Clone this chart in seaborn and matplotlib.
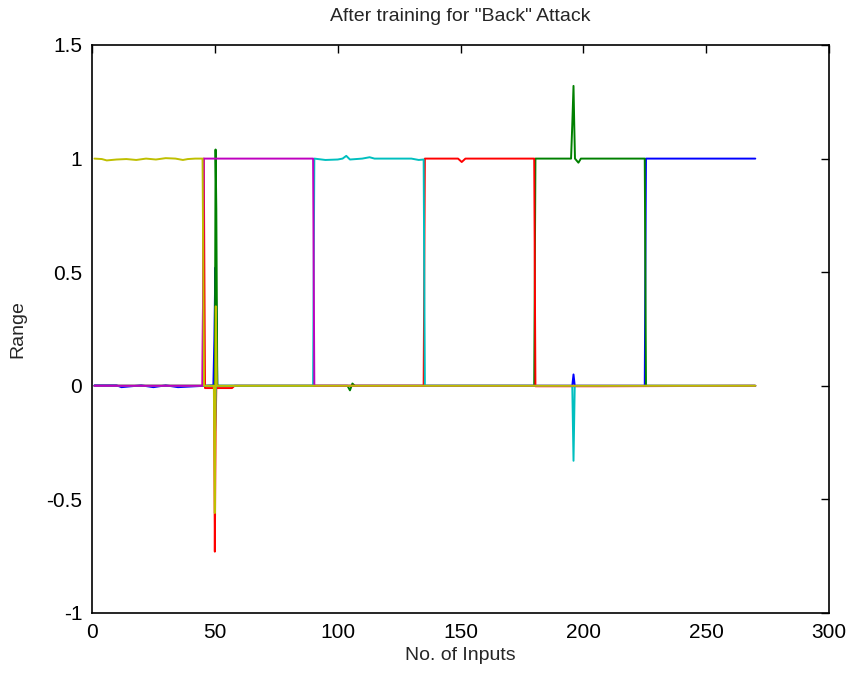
import matplotlib
matplotlib.use("Agg")
import matplotlib.pyplot as plt
import seaborn as sns
import pandas as pd

# ---- data ----
yellow_x = [1, 4, 6, 10, 14, 18, 22, 26, 30, 34, 37, 39, 42, 45, 45.6, 49.6, 50.0, 50.4, 50.8, 270]
yellow_y = [1.0, 0.998, 0.992, 0.996, 0.998, 0.994, 1.0, 0.996, 1.002, 1.0, 0.994, 0.998, 1.0, 1.0, 0.0, 0.0, -0.56, 0.35, 0.0, 0.0]

magenta_x = [1, 45, 45.5, 90, 90.5, 270]
magenta_y = [0.0, 0.0, 1.0, 1.0, 0.0, 0.0]

cyan_x = [1, 49.8, 50.1, 50.4, 90, 90.5, 95, 100, 102, 103.5, 105, 110, 113, 115, 120, 130, 133, 135, 135.5, 195.5, 196.0, 196.5, 270]
cyan_y = [0.0, 0.0, -0.2, 0.0, 0.0, 1.0, 0.994, 0.996, 1.0, 1.012, 0.996, 1.0, 1.006, 1.0, 1.0, 1.0, 0.994, 0.996, 0.0, 0.0, -0.33, 0.0, 0.0]

red_x = [1, 45, 45.5, 46.0, 49.7, 50.0, 50.3, 50.6, 57, 58, 135, 135.5, 149, 150.5, 152, 180, 180.5, 207, 270]
red_y = [0.0, 0.0, 1.0, -0.01, -0.01, -0.73, -0.2, -0.01, -0.01, 0.0, 0.0, 1.0, 1.0, 0.985, 1.0, 1.0, -0.002, -0.002, 0.0]

green_x = [1, 50.0, 50.3, 50.6, 51.0, 104, 105, 106, 107, 180, 180.5, 195, 195.5, 196.0, 196.3, 196.6, 198, 199, 225, 225.5, 270]
green_y = [0.0, 0.0, 1.04, 0.78, 0.0, 0.0, -0.02, 0.01, 0.0, 0.0, 1.0, 1.0, 1.15, 1.32, 1.15, 1.0, 0.982, 1.0, 1.0, 0.0, 0.0]

blue_x = [1, 10, 12, 20, 25, 30, 35, 49.4, 49.8, 50.2, 50.6, 51.0, 195.5, 196.0, 196.5, 225, 225.5, 270]
blue_y = [0.002, 0.002, -0.006, 0.002, -0.006, 0.002, -0.006, 0.002, 0.2, 0.52, 0.34, 0.0, 0.0, 0.05, 0.0, 0.0, 1.0, 1.0]

series_names = ["blue", "green", "red", "cyan", "magenta", "yellow"]
series_colors = ["#0000FF", "#008000", "#FF0000", "#00BFBF", "#BF00BF", "#BFBF00"]

title_text = 'After training for "Back" Attack'
x_label = "No. of Inputs"
y_label = "Range"
x_ticks = [0, 50, 100, 150, 200, 250, 300]
y_ticks = [-1, -0.5, 0, 0.5, 1, 1.5]
y_tick_labels = ["-1", "-0.5", "0", "0.5", "1", "1.5"]

# ---- build long table ----
xs = {"blue": blue_x, "green": green_x, "red": red_x, "cyan": cyan_x,
      "magenta": magenta_x, "yellow": yellow_x}
ys = {"blue": blue_y, "green": green_y, "red": red_y, "cyan": cyan_y,
      "magenta": magenta_y, "yellow": yellow_y}
frames = []
for name in series_names:
    frames.append(pd.DataFrame({"x": xs[name], "y": ys[name], "series": name}))
df = pd.concat(frames, ignore_index=True)

sns.set_style("white")
plt.rcParams["font.family"] = ["Liberation Sans", "DejaVu Sans"]

fig = plt.figure(figsize=(8.51, 6.74), dpi=100)
ax = fig.add_axes([92 / 851, 1 - 613 / 674, (829 - 92) / 851, (613 - 45) / 674])

sns.lineplot(data=df, x="x", y="y", hue="series", hue_order=series_names,
             palette=dict(zip(series_names, series_colors)), estimator=None,
             sort=False, linewidth=1.4, legend=False, ax=ax)

ax.set_xlim(0, 300)
ax.set_ylim(-1, 1.5)
ax.set_xticks(x_ticks)
ax.set_xticklabels([str(t) for t in x_ticks])
ax.set_yticks(y_ticks)
ax.set_yticklabels(y_tick_labels)
ax.tick_params(direction="in", top=True, right=True, length=6, width=1,
               labelsize=15, pad=7, colors="black")
for s in ax.spines.values():
    s.set_visible(True)
    s.set_color("black")
    s.set_linewidth(1.2)
ax.set_title(title_text, fontsize=14, pad=17)
ax.set_xlabel(x_label, fontsize=14, labelpad=4)
ax.set_ylabel(y_label, fontsize=14, labelpad=14)

fig.savefig("out.png", dpi=100)
